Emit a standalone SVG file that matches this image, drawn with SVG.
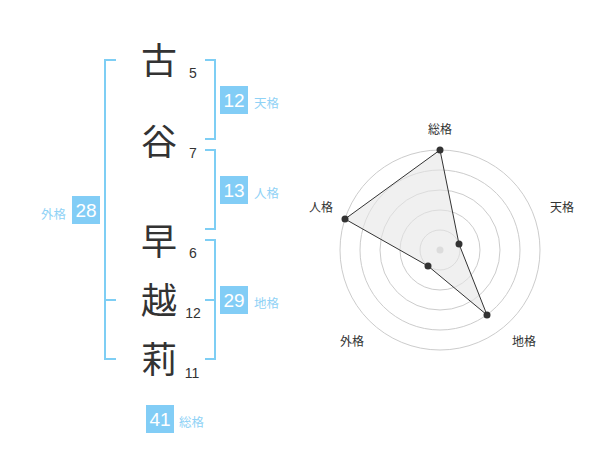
<svg xmlns="http://www.w3.org/2000/svg" width="600" height="470" viewBox="0 0 600 470">
<style>
.kanji{font-family:"Noto Sans CJK JP","Noto Sans CJK SC",sans-serif;font-size:36px;fill:#333;text-anchor:middle}
.num{font-family:"Liberation Sans",Arial,sans-serif;font-size:14px;fill:#333;text-anchor:middle}
.br{fill:none;stroke:#7ecef4;stroke-width:2}
.box{fill:#82cdf6}
.bt{font-family:"Liberation Sans",Arial,sans-serif;font-size:19px;fill:#fff;text-anchor:middle}
.lb{font-family:"Noto Sans CJK JP","Noto Sans CJK SC",sans-serif;font-size:12.5px;fill:#8fd2f6}
.ring{fill:none;stroke:#ccc;stroke-width:1}
.rl{font-family:"Noto Sans CJK JP","Noto Sans CJK SC",sans-serif;font-size:12px;fill:#333;text-anchor:middle}
.pt{fill:#333}
</style>
<rect width="600" height="470" fill="#fff"/>
<g id="name">
<text class="kanji" x="159" y="73.5">古</text>
<text class="kanji" x="159" y="154.5">谷</text>
<text class="kanji" x="159" y="255">早</text>
<text class="kanji" x="159" y="313.5">越</text>
<text class="kanji" x="159" y="372.5">莉</text>
<text class="num" x="193" y="78">5</text>
<text class="num" x="193" y="158">7</text>
<text class="num" x="193" y="258">6</text>
<text class="num" x="193" y="318">12</text>
<text class="num" x="192" y="378">11</text>
</g>
<g id="connectors">
<path class="br" d="M116,60 H105 V359 H116 M105,300 H116"/>
<path class="br" d="M205,60 H215 V139 H205"/>
<path class="br" d="M205,150 H215 V229 H205"/>
<path class="br" d="M205,240 H215 V359 H205 M205,300 H215"/>
</g>
<g id="tenkaku">
<rect class="box" x="220" y="86" width="28" height="28"/>
<text class="bt" x="234" y="107">12</text>
<text class="lb" x="254" y="108">天格</text>
</g>
<g id="jinkaku">
<rect class="box" x="220" y="176" width="28" height="28"/>
<text class="bt" x="234" y="197">13</text>
<text class="lb" x="254" y="198">人格</text>
</g>
<g id="chikaku">
<rect class="box" x="220" y="286" width="28" height="28"/>
<text class="bt" x="234" y="307">29</text>
<text class="lb" x="254" y="308">地格</text>
</g>
<g id="gaikaku">
<rect class="box" x="72" y="196" width="28" height="28"/>
<text class="bt" x="86" y="217">28</text>
<text class="lb" x="66" y="218.5" text-anchor="end">外格</text>
</g>
<g id="soukaku">
<rect class="box" x="146" y="405" width="28" height="28"/>
<text class="bt" x="160" y="426">41</text>
<text class="lb" x="179" y="427">総格</text>
</g>
<g id="radar">
<circle class="ring" cx="440" cy="250" r="100"/>
<circle class="ring" cx="440" cy="250" r="80"/>
<circle class="ring" cx="440" cy="250" r="60"/>
<circle class="ring" cx="440" cy="250" r="40"/>
<circle class="ring" cx="440" cy="250" r="20"/>
<circle cx="440" cy="250" r="3.5" fill="#ccc"/>
<polygon points="440,150 459,244 487,315 428,266 345,219" fill="#e6e6e6" fill-opacity="0.6" stroke="#333" stroke-width="1"/>
<circle class="pt" cx="440" cy="150" r="3.5"/>
<circle class="pt" cx="459" cy="244" r="3.5"/>
<circle class="pt" cx="487" cy="315" r="3.5"/>
<circle class="pt" cx="428" cy="266" r="3.5"/>
<circle class="pt" cx="345" cy="219" r="3.5"/>
<text class="rl" x="440" y="134">総格</text>
<text class="rl" x="562" y="212">天格</text>
<text class="rl" x="524" y="346">地格</text>
<text class="rl" x="352" y="346">外格</text>
<text class="rl" x="321" y="212">人格</text>
</g>
</svg>
